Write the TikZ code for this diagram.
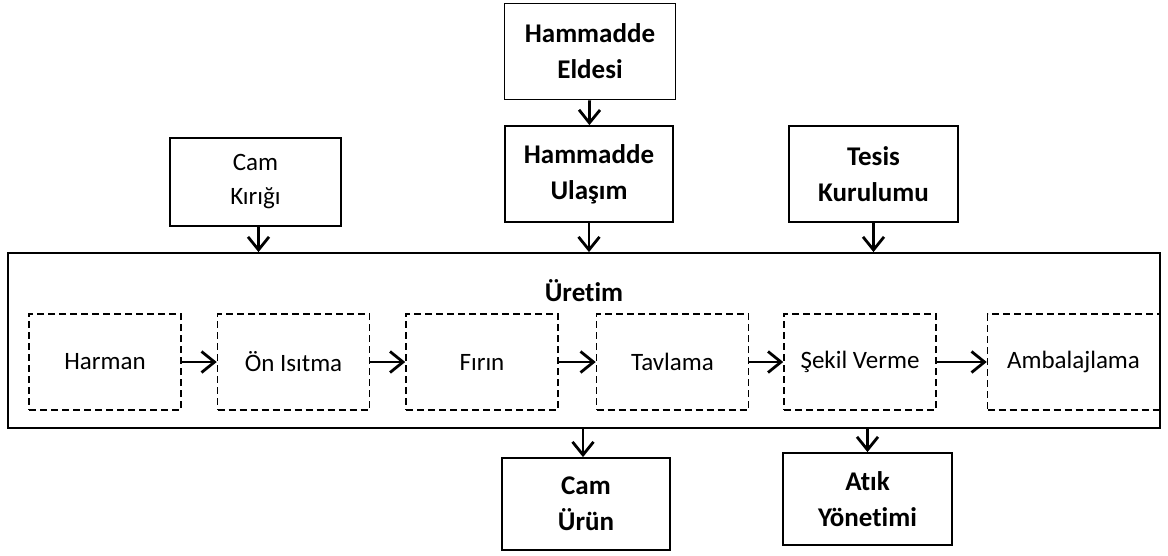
\documentclass[tikz,border=0pt]{standalone}
\usepackage{fontspec}
\setmainfont[Ligatures=NoCommon]{Carlito}
\usetikzlibrary{positioning, arrows.meta}
\tikzstyle{bblock} = [rectangle, draw, line width=1.8pt, align=center,
minimum width=168pt, minimum height=96pt, font=\fontsize{27}{36}\selectfont\bfseries]
\tikzstyle{nblock} = [bblock, font=\fontsize{25}{34}\selectfont]
\tikzstyle{dblock} = [rectangle, draw, line width=1.5pt, dash pattern=on 7pt off 4pt,
minimum width=152pt, minimum height=96pt, font=\fontsize{25}{30}\selectfont]
\tikzstyle{arrow} = [line width=2.8pt, -{Straight Barb[length=13pt, width=21pt]}]

\begin{document}
\begin{tikzpicture}[x=1pt, y=-1pt]
	\useasboundingbox (0,0) rectangle (1168,555);
	\node (Eldesi) [bblock, minimum width=171pt] at (590,51.5) {Hammadde\\Eldesi};
	\node (Ulasim) [bblock] at (589,174) {Hammadde\\Ula\c{s}\i m};
	\node (Kirik) [nblock, minimum width=171pt, minimum height=88pt] at (255.5,182) {Cam\\K\i r\i\u{g}\i};
	\node (Tesis) [bblock, minimum width=169pt] at (873.5,174) {Tesis\\Kurulumu};
	\node (Uretim) [rectangle, draw, line width=1.8pt, minimum width=1152pt, minimum height=175pt] at (584,340.5) {};
	\node (UretimBaslik) [font=\fontsize{27}{30}\selectfont\bfseries, below=39pt of Uretim.north, anchor=center] {\"Uretim};

	\node (Harman) [dblock] at (105,362) {Harman};
	\node (OnIsitma) [dblock, right=35pt of Harman] {\"On Is\i tma};
	\node (Firin) [dblock, right=35pt of OnIsitma] {F\i r\i n};
	\node (Tavlama) [dblock, right=37pt of Firin] {Tavlama};
	\node (Sekil) [dblock, right=34pt of Tavlama] {\c{S}ekil Verme};
	\node (Ambalaj) [dblock, minimum width=172pt, right=50pt of Sekil] {Ambalajlama};

	\node (CamUrun) [bblock, minimum height=92pt] at (586,504) {Cam\\\"Ur\"un};
	\node (Atik) [bblock, minimum width=169pt, minimum height=92pt] at (867.5,499) {At\i k\\Y\"onetimi};

	\draw [arrow] (Eldesi) -- (Ulasim);
	\draw [arrow] ([xshift=3pt]Kirik.south) -- ([xshift=3pt]Kirik.south |- Uretim.north);
	\draw [arrow] (Ulasim.south) -- (Ulasim.south |- Uretim.north);
	\draw [arrow] (Tesis.south) -- (Tesis.south |- Uretim.north);
	\draw [arrow] (Harman) -- (OnIsitma);
	\draw [arrow] (OnIsitma) -- (Firin);
	\draw [arrow] (Firin) -- (Tavlama);
	\draw [arrow] (Tavlama) -- (Sekil);
	\draw [arrow] (Sekil) -- (Ambalaj);
	\draw [arrow] ([xshift=-3pt]CamUrun.north |- Uretim.south) -- ([xshift=-3pt]CamUrun.north);
	\draw [arrow] (Atik.north |- Uretim.south) -- (Atik.north);
\end{tikzpicture}
\end{document}
